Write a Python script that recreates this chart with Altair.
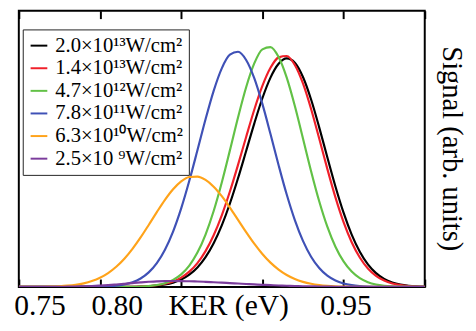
import altair as alt
import pandas as pd

ker = [0.750, 0.755, 0.760, 0.765, 0.770, 0.775, 0.780, 0.785, 0.790, 0.795,
       0.800, 0.805, 0.810, 0.815, 0.820, 0.825, 0.830, 0.835, 0.840, 0.845,
       0.850, 0.855, 0.860, 0.865, 0.870, 0.875, 0.880, 0.885, 0.890, 0.895,
       0.900, 0.905, 0.910, 0.915, 0.920, 0.925, 0.930, 0.935, 0.940, 0.945,
       0.950, 0.955, 0.960, 0.965, 0.970, 0.975, 0.980, 0.985, 0.990, 0.995, 1.000]

black = [0, 0, 0, 0, 0, 0, 0, 0, 0, 0, 0, 0,
         .0001, .0003, .0005, .0012, .0023, .0046, .0085, .0152, .0262, .0434,
         .0690, .1055, .1549, .2185, .2960, .3855, .4823, .5797, .6695, .7427,
         .7918, .8110, .7958, .7449, .6650, .5663, .4600, .3564, .2634, .1856,
         .1248, .0800, .0490, .0285, .0159, .0084, .0043, .0021, .0009]

red = [0, 0, 0, 0, 0, 0, 0, 0, 0, 0, 0,
       .0001, .0002, .0004, .0008, .0016, .0032, .0061, .0112, .0197, .0333,
       .0542, .0847, .1271, .1833, .2542, .3385, .4330, .5322, .6286, .7132,
       .7776, .8146, .8195, .7876, .7219, .6313, .5265, .4189, .3178, .2301,
       .1588, .1046, .0657, .0394, .0225, .0123, .0064, .0032, .0015, .0007]

green = [0, 0, 0, 0, 0, 0, 0, 0, 0, 0, 0, 0,
         .0001, .0003, .0006, .0015, .0033, .0068, .0134, .0252, .0448, .0759,
         .1218, .1860, .2695, .3708, .4846, .6014, .7087, .7931, .8430, .8509,
         .8156, .7424, .6417, .5268, .4107, .3040, .2138, .1427, .0905, .0545,
         .0312, .0169, .0087, .0043, .0020, .0009, .0004, .0001, 0]

blue = [0, 0, 0, 0, 0, 0, 0,
        .0001, .0002, .0004, .0010, .0021, .0044, .0088, .0167, .0301, .0517,
        .0846, .1321, .1965, .2787, .3765, .4847, .5949, .6959, .7757, .8242,
        .8345, .8054, .7408, .6494, .5425, .4320, .3278, .2371, .1634, .1073,
        .0672, .0401, .0228, .0124, .0064, .0031, .0015, .0007, .0003, .0001,
        0, 0, 0, 0]

orange = [.0001, .0002, .0003, .0007, .0013, .0024, .0044, .0076, .0128, .0209,
          .0326, .0492, .0715, .1000, .1350, .1755, .2199, .2655, .3090, .3466,
          .3746, .3901, .3916, .3797, .3558, .3221, .2818, .2382, .1945, .1535,
          .1171, .0863, .0615, .0423, .0281, .0181, .0112, .0067, .0039, .0022,
          .0012, .0006, .0003, .0002, .0001, 0, 0, 0, 0, 0, 0]

purple = [0, 0, .0001, .0002, .0003, .0005, .0009, .0014, .0022, .0033,
          .0048, .0066, .0088, .0112, .0138, .0162, .0183, .0200, .0208, .0210,
          .0207, .0201, .0192, .0181, .0167, .0152, .0137, .0121, .0105, .0090,
          .0076, .0063, .0052, .0042, .0033, .0026, .0020, .0015, .0011, .0008,
          .0006, .0004, .0003, .0002, .0001, .0001, 0, 0, 0, 0, 0]

labels = ["2.0×10¹³W/cm²", "1.4×10¹³W/cm²", "4.7×10¹²W/cm²",
          "7.8×10¹¹W/cm²", "6.3×10¹⁰W/cm²", "2.5×10 ⁹W/cm²"]
colors = ["#000000", "#f0202a", "#62c146", "#3f51b6", "#ffa31a", "#7b3c9c"]
series = [black, red, green, blue, orange, purple]

rows = []
for lab, vals in zip(labels, series):
    for k, v in zip(ker, vals):
        rows.append({"ker": k, "signal": v, "series": lab})
df = pd.DataFrame(rows)

FONT = "Liberation Serif"
tick_values = [0.75, 0.8, 0.85, 0.9, 0.95, 1.0]

bottom_axis = alt.Axis(
    orient="bottom", values=tick_values, offset=-8, tickSize=8, tickWidth=2,
    tickColor="black", domain=False, grid=False,
    labelExpr="datum.value == 0.75 ? '0.75' : datum.value == 0.8 ? '0.80' : datum.value == 0.95 ? '0.95' : ''",
    labelFont=FONT, labelFontSize=30, labelColor="black", labelBaseline="alphabetic",
    labelPadding=28, labelOverlap=False, labelBound=False, labelFlush=False,
    labelOffset={"condition": [{"test": "datum.value == 0.75", "value": 21},
                               {"test": "datum.value == 0.8", "value": 17}],
                 "value": 2},
    title="KER (eV)", titleFont=FONT, titleFontSize=30, titleFontWeight="normal",
    titleColor="black", titleX=213, titleY=36, titleBaseline="alphabetic",
    titleAlign="center",
)

top_axis = alt.Axis(
    orient="top", values=tick_values, offset=-8, tickSize=8, tickWidth=2,
    tickColor="black", domain=False, grid=False, labels=False, title=None,
)

right_axis = alt.Axis(
    orient="right", domain=False, ticks=False, labels=False, grid=False,
    title="Signal (arb. units)", titleFont=FONT, titleFontSize=29,
    titleFontWeight="normal", titleColor="black", titleAngle=90,
    titleX=18, titleY=140, titleAlign="center", titleBaseline="alphabetic",
)

xscale = alt.Scale(domain=[0.75, 1.0], nice=False, zero=False)
yscale = alt.Scale(domain=[0, 0.98], nice=False)

lines = alt.Chart(df).mark_line(strokeWidth=2.2, interpolate="monotone", clip=True).encode(
    x=alt.X("ker:Q", scale=xscale, axis=bottom_axis),
    y=alt.Y("signal:Q", scale=yscale, axis=right_axis),
    color=alt.Color(
        "series:N", sort=labels,
        scale=alt.Scale(domain=labels, range=colors),
        legend=alt.Legend(
            orient="none", legendX=4, legendY=19, title=None,
            labelFont=FONT, labelFontSize=21, labelColor="black", labelOffset=6,
            symbolType="stroke", symbolSize=289, symbolStrokeWidth=2,
            strokeColor="#222222", fillColor="white", padding=6, rowPadding=1,
            labelLimit=400,
        ),
    ),
)

top = alt.Chart(df).mark_line(opacity=0).encode(
    x=alt.X("ker:Q", scale=xscale, axis=top_axis),
    y=alt.Y("signal:Q", scale=yscale, axis=None),
)

chart = alt.layer(lines, top).resolve_axis(x="independent", y="independent").properties(
    width=413, height=281,
    autosize=alt.AutoSizeParams(type="none"),
    padding={"left": 11, "top": 0, "right": 44, "bottom": 40},
).configure_view(stroke="black", strokeWidth=2)

chart.save("out.html", embed_options={"renderer": "svg", "actions": False})
